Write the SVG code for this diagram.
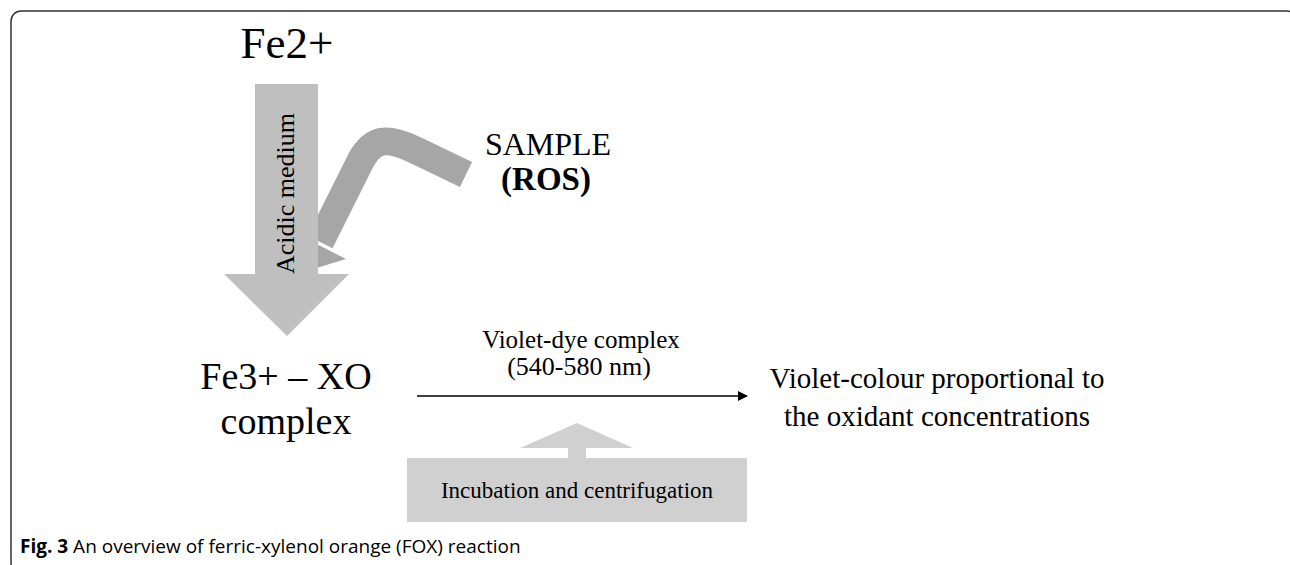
<svg xmlns="http://www.w3.org/2000/svg" width="1290" height="565" viewBox="0 0 1290 565">
<style>
.serif{font-family:"Liberation Serif","Times New Roman",serif;fill:#000}
.cap{font-family:"Open Sans","Noto Sans",sans-serif;fill:#000;font-size:19px}
</style>
<defs>
<marker id="ah" markerWidth="10" markerHeight="10" refX="9" refY="5" orient="auto" markerUnits="userSpaceOnUse">
<path d="M0,0 L10,5 L0,10 Z" fill="#000"/>
</marker>
</defs>
<rect x="11" y="11" width="1286" height="562" rx="10" ry="10" fill="#fff" stroke="#333" stroke-width="1.5"/>
<g id="connectors">
<g id="sample-arrow">
<path d="M466,174.5 L414,149.5 C386,136 373,139 361,160 L320,242" fill="none" stroke="#a6a6a6" stroke-width="28"/>
<polygon points="305,271.5 346,259 291,231" fill="#a6a6a6"/>
</g>
<g id="acidic-arrow">
<polygon points="255,84 318,84 318,274 349,274 287,336 224,274 255,274" fill="#bfbfbf"/>
<text class="serif" font-size="26" text-anchor="middle" transform="translate(294,193.5) rotate(-90)">Acidic medium</text>
</g>
<line x1="417" y1="396" x2="747" y2="396" stroke="#000" stroke-width="1.5" marker-end="url(#ah)"/>
<g id="incubation-arrow">
<polygon points="520,448 633,448 577,423" fill="#d0d0d0"/>
<rect x="568" y="447" width="18" height="12" fill="#d0d0d0"/>
</g>
</g>
<g id="fe2">
<text class="serif" x="287" y="58" font-size="45" text-anchor="middle">Fe2+</text>
</g>
<g id="sample">
<text class="serif" x="548" y="155" font-size="32" text-anchor="middle">SAMPLE</text>
<text class="serif" x="546" y="190" font-size="33" font-weight="bold" text-anchor="middle">(ROS)</text>
</g>
<g id="fe3">
<text class="serif" x="286" y="389" font-size="38" text-anchor="middle">Fe3+ – XO</text>
<text class="serif" x="286" y="434" font-size="38" text-anchor="middle">complex</text>
</g>
<g id="violet-dye">
<text class="serif" x="581" y="348" font-size="25" text-anchor="middle">Violet-dye complex</text>
<text class="serif" x="579" y="375" font-size="26" text-anchor="middle">(540-580 nm)</text>
</g>
<g id="result">
<text class="serif" x="937" y="388" font-size="29" text-anchor="middle">Violet-colour proportional to</text>
<text class="serif" x="937" y="426" font-size="29" text-anchor="middle">the oxidant concentrations</text>
</g>
<g id="incubation">
<rect x="407" y="458" width="340" height="64" fill="#d0d0d0"/>
<text class="serif" x="577" y="498" font-size="23" text-anchor="middle">Incubation and centrifugation</text>
</g>
<g id="caption">
<text class="cap" x="20" y="553"><tspan font-weight="bold">Fig. 3</tspan> An overview of ferric-xylenol orange (FOX) reaction</text>
</g>
</svg>
